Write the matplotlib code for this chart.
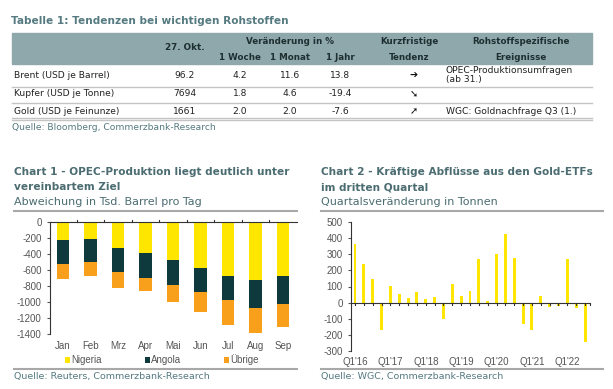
import matplotlib.pyplot as plt
from matplotlib.lines import Line2D
from matplotlib.patches import Rectangle
import numpy as np

plt.rcParams["axes.unicode_minus"] = False

W, H = 613, 389

# table data
rohstoffe = ["Brent (USD je Barrel)", "Kupfer (USD je Tonne)", "Gold (USD je Feinunze)"]
preis = ["96.2", "7694", "1661"]
woche = ["4.2", "1.8", "2.0"]
monat = ["11.6", "4.6", "2.0"]
jahr = ["13.8", "-19.4", "-7.6"]
tendenz = ["\u2794", "\u2798", "\u279a"]
ereignisse = ["OPEC-Produktionsumfragen\n(ab 31.)", "", "WGC: Goldnachfrage Q3 (1.)"]

# chart 1 data (Tsd. Barrel pro Tag)
monate = ["Jan", "Feb", "Mrz", "Apr", "Mai", "Jun", "Jul", "Aug", "Sep"]
nigeria = [-225, -210, -330, -390, -475, -575, -670, -725, -680]
angola = [-305, -290, -290, -305, -310, -305, -310, -345, -345]
uebrige = [-185, -180, -205, -170, -210, -240, -310, -320, -290]

# chart 2 data (Tonnen)
quartale = ["Q1'16", "Q2'16", "Q3'16", "Q4'16", "Q1'17", "Q2'17", "Q3'17", "Q4'17",
            "Q1'18", "Q2'18", "Q3'18", "Q4'18", "Q1'19", "Q2'19", "Q3'19", "Q4'19",
            "Q1'20", "Q2'20", "Q3'20", "Q4'20", "Q1'21", "Q2'21", "Q3'21", "Q4'21",
            "Q1'22", "Q2'22", "Q3'22"]
etf = [365, 240, 145, -170, 105, 55, 30, 65, 22, 35, -100, 115, 40, 72, 270, 12,
       300, 425, 275, -135, -170, 38, -25, -20, 270, -35, -245]

teal = "#557a80"
hdr = "#8fa8ac"
grey_line = "#c4c4c4"
dark = "#1e2f32"
tick_col = "#555555"
arial = "Liberation Sans"

fig = plt.figure(figsize=(W / 100, H / 100), dpi=100)


def px(x, y):
    return x / W, 1 - y / H


def txt(x, y, s, **kw):
    fx, fy = px(x, y)
    fig.text(fx, fy, s, **kw)


def hline(x0, x1, y, color=grey_line, lw=1.0):
    fig.add_artist(Line2D([x0 / W, x1 / W], [1 - y / H, 1 - y / H], color=color, lw=lw,
                          transform=fig.transFigure))


# ---- table ----
txt(11, 21, "Tabelle 1: Tendenzen bei wichtigen Rohstoffen", fontsize=7.6, color=teal,
    fontweight="bold", va="center")
fig.add_artist(Rectangle(px(12, 64), 580 / W, 31 / H, color=hdr, transform=fig.transFigure,
                         zorder=0))
hk = dict(fontsize=6.3, fontweight="bold", color=dark, va="center", ha="center")
txt(185, 48, "27. Okt.", **hk)
txt(290, 41, "Veränderung in %", **hk)
txt(240, 57, "1 Woche", **hk)
txt(290, 57, "1 Monat", **hk)
txt(340, 57, "1 Jahr", **hk)
txt(409, 41, "Kurzfristige", **hk)
txt(409, 57, "Tendenz", **hk)
txt(521, 41, "Rohstoffspezifische", **hk)
txt(521, 57, "Ereignisse", **hk)

rk = dict(fontsize=6.6, color="#222222", va="center")
row_y = [75, 94, 111]
for i, y in enumerate(row_y):
    txt(14, y, rohstoffe[i], **rk)
    txt(185, y, preis[i], ha="center", **rk)
    txt(240, y, woche[i], ha="center", **rk)
    txt(290, y, monat[i], ha="center", **rk)
    txt(340, y, jahr[i], ha="center", **rk)
    txt(414, y, tendenz[i], ha="center", fontsize=7, color="#111111", va="center",
        fontweight="bold")
    txt(446, y, ereignisse[i], linespacing=1.05, **rk)
hline(12, 592, 86.5)
hline(12, 592, 103)
hline(12, 592, 117.5)
hline(12, 592, 119.5)
txt(12, 127, "Quelle: Bloomberg, Commerzbank-Research", fontsize=6.6, color=teal, va="center")

# ---- chart titles ----
tk = dict(fontsize=7.6, fontweight="bold", color="#4b6c71", va="center")
sk = dict(fontsize=8.0, color="#4b6c71", va="center")
txt(14, 172, "Chart 1 - OPEC-Produktion liegt deutlich unter", **tk)
txt(14, 187, "vereinbartem Ziel", **tk)
txt(14, 202, "Abweichung in Tsd. Barrel pro Tag", **sk)
hline(14, 297, 211, color="#a8a8a8", lw=1.5)
hline(14, 297, 369, color="#a8a8a8", lw=1.5)
txt(14, 377, "Quelle: Reuters, Commerzbank-Research", fontsize=6.8, color=teal, va="center")

txt(321, 172, "Chart 2 - Kräftige Abflüsse aus den Gold-ETFs", **tk)
txt(321, 187, "im dritten Quartal", **tk)
txt(321, 202, "Quartalsveränderung in Tonnen", **sk)
hline(321, 603, 211, color="#a8a8a8", lw=1.5)
hline(321, 603, 369, color="#a8a8a8", lw=1.5)
txt(321, 377, "Quelle: WGC, Commerzbank-Research", fontsize=6.8, color=teal, va="center")

# ---- chart 1 ----
ax1 = fig.add_axes([50 / W, 1 - 334 / H, 247 / W, 112 / H])
x = np.arange(len(monate))
n = np.array(nigeria)
a = np.array(angola)
u = np.array(uebrige)
ax1.bar(x, n, 0.45, color="#ffe600", label="Nigeria")
ax1.bar(x, a, 0.45, bottom=n, color="#0f3a3d", label="Angola")
ax1.bar(x, u, 0.45, bottom=n + a, color="#f8a01c", label="Übrige")
ax1.set_xlim(-0.47, 8.51)
ax1.set_ylim(-1400, 0)
ax1.set_yticks(np.arange(-1400, 1, 200))
ax1.set_xticks(x)
ax1.set_xticklabels(monate)
ax1.tick_params(axis="x", length=0, labelsize=7, colors=tick_col, pad=5)
ax1.tick_params(axis="y", length=2.5, labelsize=7, colors=tick_col, width=0.8)
for lab in ax1.get_xticklabels() + ax1.get_yticklabels():
    lab.set_family(arial)
ax1.spines["right"].set_visible(False)
ax1.spines["bottom"].set_visible(False)
ax1.spines["top"].set_color("#333333")
ax1.spines["left"].set_color("#333333")
ax1.spines["top"].set_linewidth(0.8)
ax1.spines["left"].set_linewidth(0.8)
for xb in np.arange(0.5, 8.5, 1):
    ax1.plot([xb, xb], [0, 25], color="#333333", lw=0.8, clip_on=False)
ax1.patch.set_alpha(0)
ax1.legend(loc="center", bbox_to_anchor=(0.454, -0.232), ncol=3, frameon=False,
           prop={"family": arial, "size": 7}, handlelength=0.5, handleheight=0.5,
           columnspacing=4.4, handletextpad=0.15, labelcolor=tick_col)

# ---- chart 2 ----
ax2 = fig.add_axes([351 / W, 1 - 351 / H, 239 / W, 129 / H])
q = np.arange(len(quartale))
ax2.bar(q, etf, 0.33, color="#ffe600")
ax2.set_xlim(-0.45, 26.56)
ax2.set_ylim(-300, 500)
ax2.set_yticks(np.arange(-300, 501, 100))
ax2.set_xticks(q[::4])
ax2.set_xticklabels(quartale[::4])
ax2.tick_params(axis="x", length=0, labelsize=7, colors=tick_col, pad=4)
ax2.tick_params(axis="y", length=2.5, labelsize=7, colors=tick_col, width=0.8)
for lab in ax2.get_xticklabels() + ax2.get_yticklabels():
    lab.set_family(arial)
ax2.axhline(0, color="#333333", lw=0.8)
for xb in q:
    ax2.plot([xb, xb], [0, -12], color="#333333", lw=0.8)
ax2.plot([26.56, 26.56], [0, -12], color="#333333", lw=0.8, clip_on=False)
for s in ["top", "right", "bottom"]:
    ax2.spines[s].set_visible(False)
ax2.spines["left"].set_color("#333333")
ax2.spines["left"].set_linewidth(0.8)
ax2.patch.set_alpha(0)

fig.savefig("out.png", dpi=100)
